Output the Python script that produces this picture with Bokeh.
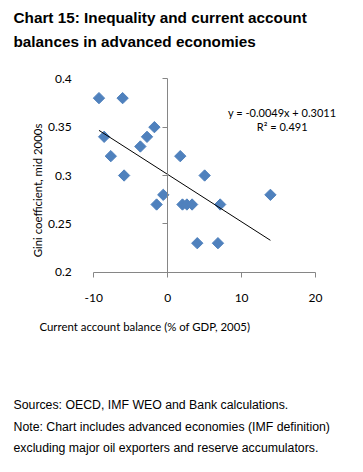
import math
from bokeh.plotting import figure
from bokeh.models import Range1d, FixedTicker, Label, LinearAxis
from bokeh.embed import file_html
from bokeh.resources import INLINE

# ---- data ----
ca_balance = [-9.3, -6.1, -8.6, -7.7, -5.9, -3.7, -2.8, -1.8, -1.5, -0.6,
              1.7, 2.0, 2.6, 3.3, 5.0, 7.1, 4.0, 6.8, 13.9]
gini = [0.38, 0.38, 0.34, 0.32, 0.30, 0.33, 0.34, 0.35, 0.27, 0.28,
        0.32, 0.27, 0.27, 0.27, 0.30, 0.27, 0.23, 0.23, 0.28]
trend_slope = -0.0049
trend_intercept = 0.3011
trend_label = "y = -0.0049x + 0.3011"
r2_label = "R² = 0.491"
x_ticks = [-10, 0, 10, 20]
x_tick_labels = ["-10", "0", "10", "20"]
y_ticks = [0.2, 0.25, 0.3, 0.35, 0.4]
y_tick_labels = ["0.2", "0.25", "0.3", "0.35", "0.4"]
title_lines = ["Chart 15: Inequality and current account",
               "balances in advanced economies"]
x_title = "Current account balance (% of GDP, 2005)"
y_title = "Gini coefficient, mid 2000s"
note_lines = ["Sources:  OECD, IMF WEO and Bank calculations.",
              "Note: Chart includes advanced economies (IMF definition)",
              "excluding major oil exporters and reserve accumulators."]

# ---- layout (pixels on the canvas) ----
W, H = 347, 456
PL, PR, PT, PB = 93.3, 315.0, 78.3, 271.7   # plot area edges
AX_COLOR = "#868686"
BLUE = "#4F81BD"
LABEL_FONT = "Lato"

x0, x1 = x_ticks[0], x_ticks[-1]
y0, y1 = y_ticks[0], y_ticks[-1]
xppu = (PR - PL) / (x1 - x0)
yppu = (PB - PT) / (y1 - y0)
x_range = Range1d(x0 - PL / xppu, x1 + (W - PR) / xppu)
y_range = Range1d(y0 - (H - PB) / yppu, y1 + PT / yppu)

p = figure(width=W, height=H, output_backend="svg", toolbar_location=None,
           x_range=x_range, y_range=y_range,
           min_border_left=0, min_border_right=0,
           min_border_top=0, min_border_bottom=0)
p.outline_line_color = None
p.xgrid.grid_line_color = None
p.ygrid.grid_line_color = None
p.background_fill_color = "white"
p.border_fill_color = "white"

# x axis along y = 0.2
xa = p.xaxis[0]
xa.fixed_location = y0
xa.bounds = (x0, x1)
xa.ticker = FixedTicker(ticks=x_ticks)
xa.major_label_overrides = {t: s for t, s in zip(x_ticks, x_tick_labels)}
xa.axis_line_color = AX_COLOR
xa.major_tick_line_color = AX_COLOR
xa.major_tick_out = 5
xa.major_tick_in = 0
xa.minor_tick_line_color = None
xa.major_label_standoff = 17
xa.major_label_text_font = LABEL_FONT
xa.major_label_text_font_size = "12px"
xa.major_label_text_color = "black"

# y tick labels at the left edge of the plot area
ya = p.yaxis[0]
ya.fixed_location = x0
ya.bounds = (y0, y1)
ya.ticker = FixedTicker(ticks=y_ticks)
ya.major_label_overrides = {t: s for t, s in zip(y_ticks, y_tick_labels)}
ya.axis_line_color = None
ya.major_tick_line_color = None
ya.minor_tick_line_color = None
ya.major_label_standoff = 16
ya.major_label_text_font = LABEL_FONT
ya.major_label_text_font_size = "12px"
ya.major_label_text_color = "black"

# vertical axis line crossing at x = 0
ya0 = LinearAxis(fixed_location=0, bounds=(y0, y1), ticker=FixedTicker(ticks=y_ticks),
                 axis_line_color=AX_COLOR, major_tick_line_color=AX_COLOR,
                 major_tick_out=5, major_tick_in=0, minor_tick_line_color=None,
                 major_label_text_color=None, major_label_text_font_size="1px")
p.add_layout(ya0, "left")

# points
p.scatter(ca_balance, gini, marker="square", angle=math.pi / 4, size=8,
          fill_color=BLUE, line_color=BLUE, line_width=1)

# trend line
tx = [min(ca_balance), max(ca_balance)]
ty = [trend_slope * v + trend_intercept for v in tx]
p.line(tx, ty, line_color="black", line_width=1)

def lab(text, px, py, size, font="Liberation Sans", style="normal", align="left",
        baseline="alphabetic", angle=0.0):
    # px, py are canvas pixels from the top-left corner
    p.add_layout(Label(x=px, y=H - py, x_units="screen", y_units="screen", text=text,
                       text_font=font, text_font_size=size, text_font_style=style,
                       text_align=align, text_baseline=baseline, angle=angle,
                       text_color="black"))

# trend labels
lab(trend_label, 281.7, 111.7, "11px", font=LABEL_FONT, align="center")
lab(r2_label, 281.7, 126.0, "11px", font=LABEL_FONT, align="center")

# titles
lab(title_lines[0], 13, 17.3, "15.3px", style="bold")
lab(title_lines[1], 13, 40.7, "15.3px", style="bold")

# axis titles
lab(x_title, 39, 326, "11.4px", font=LABEL_FONT)
lab(y_title, 37, 190, "11.4px", font=LABEL_FONT, align="center", baseline="middle",
    angle=math.pi / 2)

# notes
for line, py in zip(note_lines, [404.5, 426.3, 447.8]):
    lab(line, 13, py, "12.3px")

open("out.html", "w").write(file_html(p, INLINE))
